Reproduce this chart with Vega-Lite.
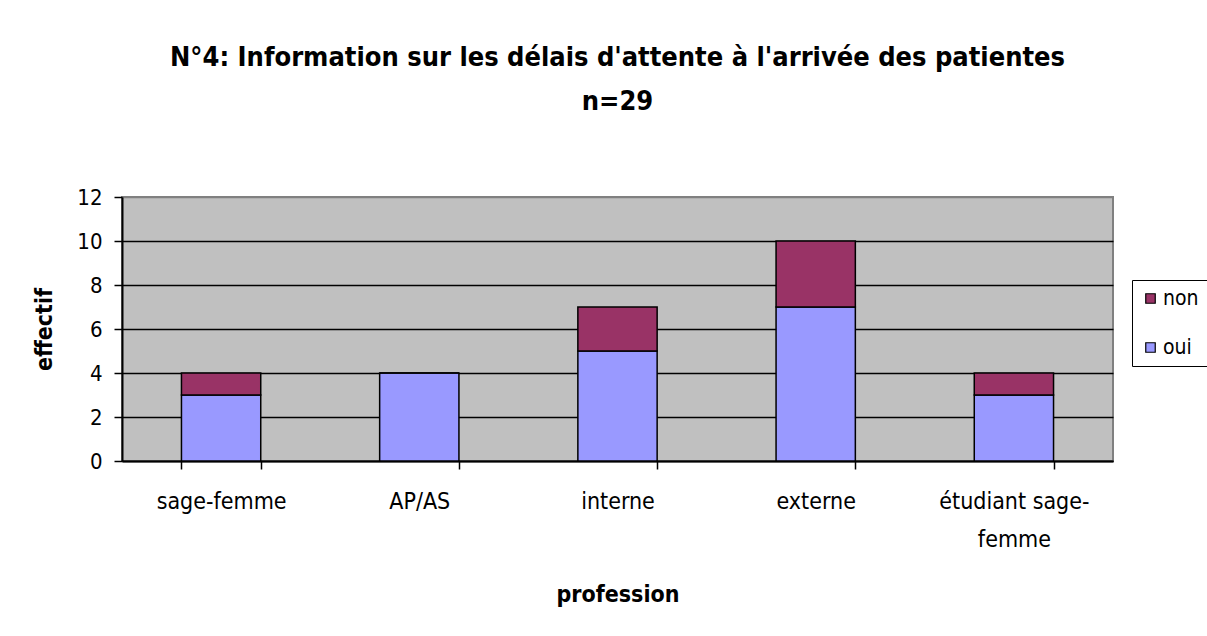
{
  "$schema": "https://vega.github.io/schema/vega-lite/v6.json",
  "width": 991,
  "height": 264,
  "autosize": {"type": "none"},
  "padding": {"left": 122, "top": 197, "right": 94, "bottom": 175},
  "background": "white",
  "title": {
    "text": ["N°4: Information sur les délais d'attente à l'arrivée des patientes", "n=29"],
    "font": "DejaVu Sans Condensed",
    "fontSize": 27,
    "fontWeight": "bold",
    "color": "black",
    "lineHeight": 44,
    "offset": 70,
    "anchor": "middle"
  },
  "data": {
    "values": [
      {"profession": "sage-femme", "reponse": "oui", "effectif": 3},
      {"profession": "sage-femme", "reponse": "non", "effectif": 1},
      {"profession": "AP/AS", "reponse": "oui", "effectif": 4},
      {"profession": "AP/AS", "reponse": "non", "effectif": 0},
      {"profession": "interne", "reponse": "oui", "effectif": 5},
      {"profession": "interne", "reponse": "non", "effectif": 2},
      {"profession": "externe", "reponse": "oui", "effectif": 7},
      {"profession": "externe", "reponse": "non", "effectif": 3},
      {"profession": "étudiant sage-femme", "reponse": "oui", "effectif": 3},
      {"profession": "étudiant sage-femme", "reponse": "non", "effectif": 1}
    ]
  },
  "mark": {"type": "bar", "stroke": "black", "strokeWidth": 1.5},
  "encoding": {
    "x": {
      "field": "profession",
      "type": "nominal",
      "sort": null,
      "scale": {"paddingInner": 0.6, "paddingOuter": 0.3},
      "axis": {
        "title": "profession",
        "titleFont": "DejaVu Sans Condensed",
        "titleFontSize": 23,
        "titleFontWeight": "bold",
        "titleColor": "black",
        "titlePadding": 32,
        "labelFont": "DejaVu Sans Condensed",
        "labelFontSize": 23,
        "labelColor": "black",
        "labelAngle": 0,
        "labelPadding": 21,
        "labelLineHeight": 38,
        "labelExpr": "datum.label == 'étudiant sage-femme' ? ['étudiant sage-', 'femme'] : datum.label",
        "tickBand": "extent",
        "tickColor": "black",
        "tickSize": 8,
        "tickWidth": 1.5,
        "domainColor": "black",
        "domainWidth": 2,
        "grid": false
      }
    },
    "y": {
      "field": "effectif",
      "type": "quantitative",
      "scale": {"domain": [0, 12], "nice": false},
      "axis": {
        "title": "effectif",
        "titleFont": "DejaVu Sans Condensed",
        "titleFontSize": 23,
        "titleFontWeight": "bold",
        "titleColor": "black",
        "titlePadding": 20,
        "labelFont": "DejaVu Sans Condensed",
        "labelFontSize": 22,
        "labelColor": "black",
        "labelPadding": 12,
        "values": [0, 2, 4, 6, 8, 10, 12],
        "tickColor": "black",
        "tickSize": 8,
        "tickWidth": 1.5,
        "domainColor": "black",
        "domainWidth": 2,
        "grid": true,
        "gridColor": {"condition": {"test": "datum.value == 12", "value": "#808080"}, "value": "black"},
        "gridWidth": 1.5
      }
    },
    "color": {
      "field": "reponse",
      "type": "nominal",
      "scale": {"domain": ["non", "oui"], "range": ["#993366", "#9999FF"]},
      "legend": {
        "title": null,
        "orient": "none",
        "legendX": 1010,
        "legendY": 83,
        "strokeColor": "black",
        "fillColor": "white",
        "padding": 8,
        "labelFont": "DejaVu Sans Condensed",
        "labelFontSize": 21,
        "labelColor": "black",
        "symbolType": "square",
        "symbolSize": 90,
        "symbolStrokeColor": "black",
        "symbolStrokeWidth": 1.2,
        "symbolOpacity": 1,
        "rowPadding": 27,
        "labelOffset": 2
      }
    },
    "order": {"field": "reponse", "sort": "descending"}
  },
  "config": {
    "view": {"fill": "#C0C0C0", "stroke": "#808080", "strokeWidth": 2}
  }
}
